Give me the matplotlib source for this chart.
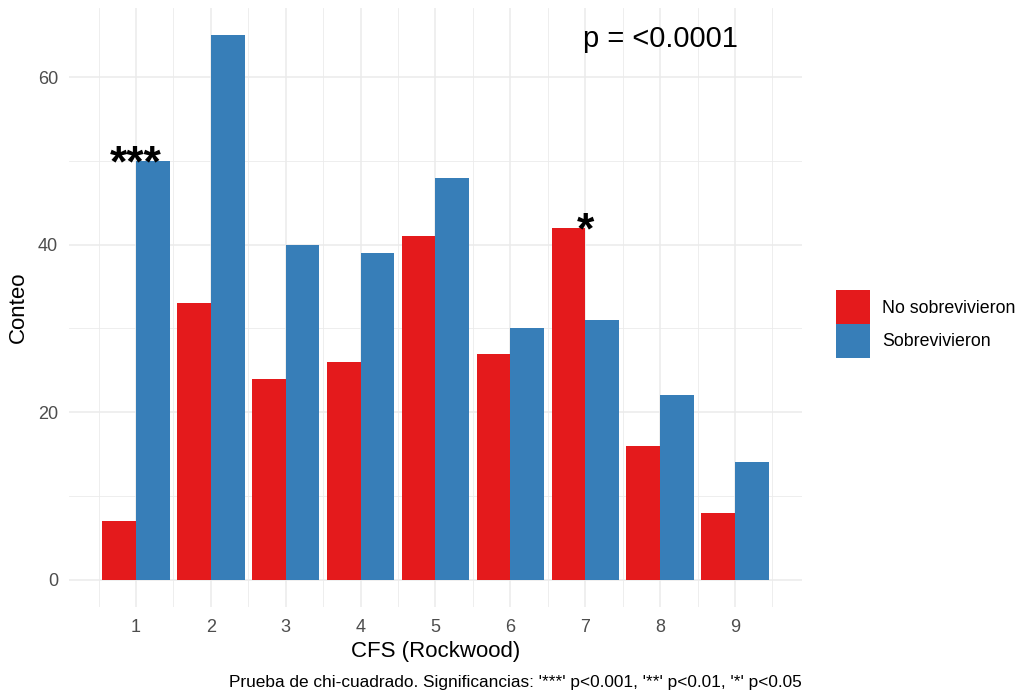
import numpy as np
import matplotlib.pyplot as plt

plt.rcParams['font.family'] = ['Liberation Sans', 'DejaVu Sans']

# data
cfs = [1, 2, 3, 4, 5, 6, 7, 8, 9]
no_sobrevivieron = [7, 33, 24, 26, 41, 27, 42, 16, 8]
sobrevivieron = [50, 65, 40, 39, 48, 30, 31, 22, 14]
signif_x = [1, 7]
signif_y = [50, 42]
signif_lab = ['***', '*']

RED = '#E41A1C'
BLUE = '#377EB8'
GRID = '#EBEBEB'

fig = plt.figure(figsize=(10.18, 6.94), dpi=100)
ax = fig.add_axes([69 / 1018, 1 - 607 / 694, (802 - 69) / 1018, (607 - 8) / 694])

x = np.array(cfs)
w = 0.45
ax.bar(x - w / 2, no_sobrevivieron, width=w, color=RED, label='No sobrevivieron', zorder=2)
ax.bar(x + w / 2, sobrevivieron, width=w, color=BLUE, label='Sobrevivieron', zorder=2)

ax.set_xlim(0.105, 9.895)
ax.set_ylim(-3.25, 68.25)

ax.set_xticks(cfs)
ax.set_xticklabels([str(c) for c in cfs])
ax.set_xticks(np.arange(0.5, 10, 1), minor=True)
ax.set_yticks([0, 20, 40, 60])
ax.set_yticks([10, 30, 50], minor=True)

ax.grid(True, which='major', color=GRID, linewidth=1.1, zorder=0)
ax.grid(True, which='minor', color=GRID, linewidth=0.6, zorder=0)
for s in ax.spines.values():
    s.set_visible(False)
ax.tick_params(which='both', length=0, labelsize=13, labelcolor='#4D4D4D')
ax.tick_params(axis='x', pad=9)
ax.tick_params(axis='y', pad=8)

ax.set_xlabel('CFS (Rockwood)', fontsize=16, labelpad=3)
ax.set_ylabel('Conteo', fontsize=16, labelpad=6)

for sx, sy, lab in zip(signif_x, signif_y, signif_lab):
    ax.text(sx, sy - 1.8, lab, ha='center', va='baseline', fontsize=32, fontweight='bold')

ax.text(8, 64.5, 'p = <0.0001', ha='center', va='center', fontsize=21)

leg = ax.legend(loc='center left', bbox_to_anchor=(836 / 1018, 1 - 324 / 694),
                bbox_transform=fig.transFigure, frameon=False,
                fontsize=12.75, handlelength=1.92, handleheight=2.55,
                handletextpad=0.68, labelspacing=0.0, borderaxespad=0, borderpad=0)

fig.text(802 / 1018, 1 - 682 / 694, "Prueba de chi-cuadrado. Significancias: '***' p<0.001, '**' p<0.01, '*' p<0.05",
         ha='right', va='center', fontsize=12.4)

fig.savefig('out.png', dpi=100)
